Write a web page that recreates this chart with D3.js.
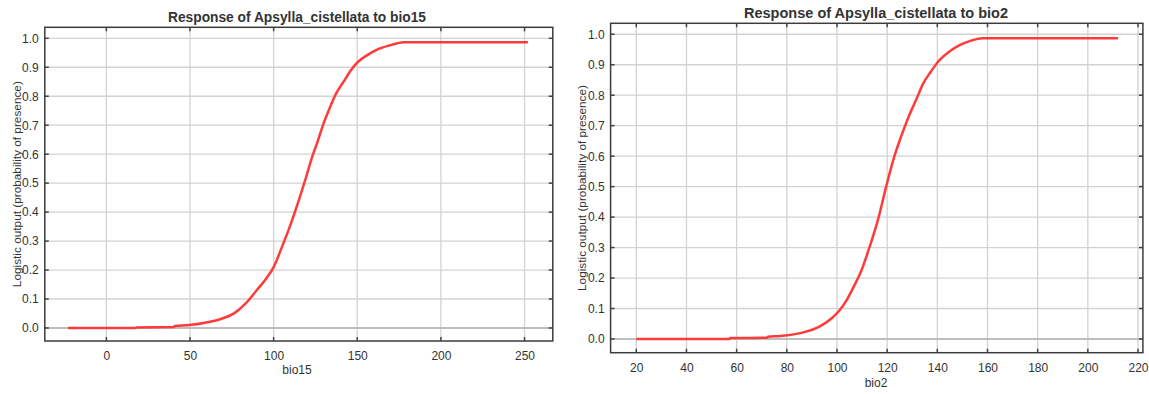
<!DOCTYPE html>
<html>
<head>
<meta charset="utf-8">
<script src="https://cdn.jsdelivr.net/npm/d3@7"></script>
<style>
  body { margin: 0; background: #fff; }
  text { font-family: "Liberation Sans", Arial, sans-serif; fill: #333; }
</style>
</head>
<body>
<svg id="chart" width="1149" height="394"></svg>
<script>
// bio15 response curve
const bio15X = [-23, 17.5, 18, 40, 41, 50, 59, 68, 77, 83, 90, 95.6, 100, 105, 110, 114, 116, 119, 123, 126.4, 129.7, 133, 137.4, 141.8, 146.2, 150.5, 156, 161.5, 169, 178, 252];
const bio15Y = [0, 0, 0.002, 0.003, 0.007, 0.01, 0.018, 0.03, 0.053, 0.083, 0.131, 0.171, 0.21, 0.28, 0.355, 0.422, 0.458, 0.513, 0.59, 0.645, 0.704, 0.752, 0.81, 0.85, 0.89, 0.919, 0.942, 0.96, 0.975, 0.986, 0.986];

// bio2 response curve
const bio2X = [20, 57, 57.5, 72, 72.5, 77.5, 83.3, 87.7, 92.8, 97.9, 100.8, 103.8, 106.7, 109.6, 113, 116.3, 119.6, 122.9, 125.6, 128.9, 131.5, 134.4, 137.4, 140.3, 144.7, 149.1, 153.5, 158, 212];
const bio2Y = [0, 0, 0.003, 0.004, 0.007, 0.01, 0.016, 0.024, 0.04, 0.068, 0.092, 0.127, 0.172, 0.222, 0.302, 0.39, 0.5, 0.6, 0.665, 0.736, 0.784, 0.839, 0.877, 0.91, 0.943, 0.965, 0.979, 0.987, 0.987];

const yTicks = [0, 0.1, 0.2, 0.3, 0.4, 0.5, 0.6, 0.7, 0.8, 0.9, 1.0];
const bio15Ticks = [0, 50, 100, 150, 200, 250];
const bio2Ticks = [20, 40, 60, 80, 100, 120, 140, 160, 180, 200, 220];

const svg = d3.select("#chart");

function drawPanel(opt) {
  const w = opt.right - opt.left, h = opt.bottom - opt.top;
  const g = svg.append("g").attr("transform", "translate(" + opt.left + "," + opt.top + ")");

  const x = d3.scaleLinear().domain(opt.xDomain).range([0, w]);
  const y = d3.scaleLinear().domain([-0.045, opt.yMax]).range([h, 0]);

  // grid
  g.append("g").selectAll("line").data(opt.xTicks).enter().append("line")
    .attr("x1", d => x(d)).attr("x2", d => x(d)).attr("y1", 0).attr("y2", h)
    .attr("stroke", "#d2d2d2").attr("stroke-width", 1.3);
  g.append("g").selectAll("line").data(yTicks).enter().append("line")
    .attr("x1", 0).attr("x2", w).attr("y1", d => y(d)).attr("y2", d => y(d))
    .attr("stroke", d => d === 0 ? "#bdbdbd" : "#d2d2d2")
    .attr("stroke-width", d => d === 0 ? 2 : 1.3);

  // axes, ticks drawn inside the frame on all four sides
  const tick = 4;
  const ax = g.append("g").attr("transform", "translate(0," + h + ")")
    .call(d3.axisBottom(x).tickValues(opt.xTicks).tickSize(0).tickPadding(opt.xPad).tickFormat(d3.format("d")));
  const ay = g.append("g")
    .call(d3.axisLeft(y).tickValues(yTicks).tickSize(0).tickPadding(6).tickFormat(d3.format(".1f")));
  [ax, ay].forEach(a => {
    a.select(".domain").remove();
    a.selectAll("text").style("font-size", "12px").attr("fill", "#333");
  });
  g.append("g").selectAll("line").data(opt.xTicks).enter().append("line")
    .attr("x1", d => x(d)).attr("x2", d => x(d)).attr("y1", 0).attr("y2", tick)
    .attr("stroke", "#444").attr("stroke-width", 1.5);
  g.append("g").selectAll("line").data(opt.xTicks).enter().append("line")
    .attr("x1", d => x(d)).attr("x2", d => x(d)).attr("y1", h).attr("y2", h - tick)
    .attr("stroke", "#444").attr("stroke-width", 1.5);
  g.append("g").selectAll("line").data(yTicks).enter().append("line")
    .attr("x1", 0).attr("x2", tick).attr("y1", d => y(d)).attr("y2", d => y(d))
    .attr("stroke", "#444").attr("stroke-width", 1.5);
  g.append("g").selectAll("line").data(yTicks).enter().append("line")
    .attr("x1", w).attr("x2", w - tick).attr("y1", d => y(d)).attr("y2", d => y(d))
    .attr("stroke", "#444").attr("stroke-width", 1.5);

  // curve
  const pts = opt.xs.map((v, i) => [v, opt.ys[i]]);
  g.append("path").datum(pts)
    .attr("d", d3.line().x(d => x(d[0])).y(d => y(d[1])).curve(d3.curveMonotoneX))
    .attr("fill", "none").attr("stroke", "#ff3a3a").attr("stroke-width", 2.5);

  // frame
  g.append("rect").attr("width", w).attr("height", h)
    .attr("fill", "none").attr("stroke", "#3c3c3c").attr("stroke-width", 1.5);

  // labels
  svg.append("text").attr("x", opt.titleX).attr("y", opt.titleY)
    .attr("text-anchor", "middle").style("font-size", "14px").style("font-weight", "bold")
    .attr("textLength", opt.titleLen).attr("lengthAdjust", "spacingAndGlyphs")
    .attr("fill", "#111").text(opt.title);
  svg.append("text").attr("x", opt.titleX).attr("y", opt.xLabelY)
    .attr("text-anchor", "middle").style("font-size", "12px").text(opt.xLabel);
  svg.append("text")
    .attr("transform", "translate(" + opt.yLabelX + "," + (opt.top + opt.bottom) / 2 + ") rotate(-90)")
    .attr("text-anchor", "middle").style("font-size", "11.5px")
    .attr("textLength", 206).attr("lengthAdjust", "spacingAndGlyphs")
    .text("Logistic output (probability of presence)");
}

drawPanel({
  left: 44.8, right: 552.8, top: 27.3, bottom: 341,
  xDomain: [-36.8, 266.9], yMax: 1.038, xPad: 10,
  xTicks: bio15Ticks, xs: bio15X, ys: bio15Y,
  title: "Response of Apsylla_cistellata to bio15", titleX: 297, titleY: 22, titleLen: 258,
  xLabel: "bio15", xLabelY: 374, yLabelX: 21
});

drawPanel({
  left: 610.6, right: 1142.9, top: 23.3, bottom: 352.7,
  xDomain: [9.76, 221.95], yMax: 1.036, xPad: 11,
  xTicks: bio2Ticks, xs: bio2X, ys: bio2Y,
  title: "Response of Apsylla_cistellata to bio2", titleX: 876, titleY: 18, titleLen: 264,
  xLabel: "bio2", xLabelY: 387, yLabelX: 585.5
});
</script>
</body>
</html>
